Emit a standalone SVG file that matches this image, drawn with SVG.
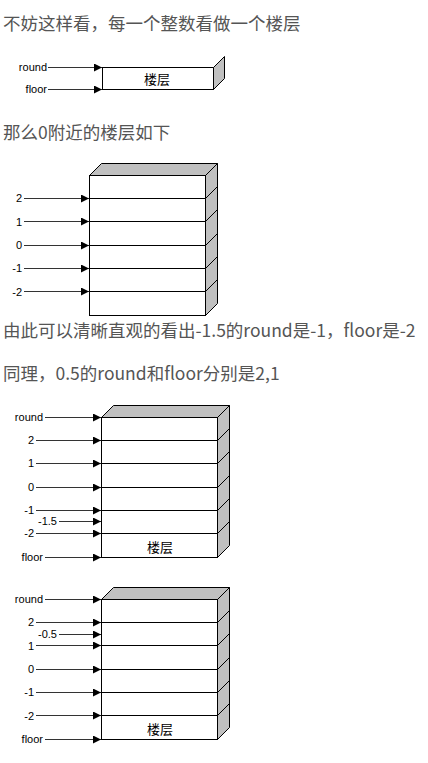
<svg xmlns="http://www.w3.org/2000/svg" width="428" height="763" viewBox="0 0 428 763">
<defs>
<marker id="ah" viewBox="0 0 8 8" refX="8" refY="4" markerWidth="8" markerHeight="8" markerUnits="userSpaceOnUse" orient="auto">
<path d="M0,0 L8,4 L0,8 z" fill="#000"/>
</marker>
<style>
.body{font-family:"Noto Sans CJK SC","Noto Sans",sans-serif;font-size:17.5px;fill:#555;}
.lbl{font-family:"Liberation Sans","DejaVu Sans","Noto Sans CJK SC",sans-serif;font-size:11px;fill:#000;text-anchor:end;dominant-baseline:central;}
.cn{font-family:"Noto Sans CJK SC",sans-serif;font-size:13px;fill:#000;text-anchor:middle;dominant-baseline:central;}
.face{fill:#fff;stroke:#000;stroke-width:1;}
.side{fill:#c0c0c0;stroke:#000;stroke-width:1;stroke-linejoin:round;}
.row{stroke:#000;stroke-width:1;fill:none;}
.conn line{stroke:#333;stroke-width:1;marker-end:url(#ah);}
</style>
</defs>
<g id="texts">
<text class="body" x="3" y="29.5">不妨这样看，每一个整数看做一个楼层</text>
<text class="body" x="3" y="138.5">那么0附近的楼层如下</text>
<text class="body" x="3" y="336.5">由此可以清晰直观的看出-1.5的round是-1，floor是-2</text>
<text class="body" x="3" y="379.5">同理，0.5的round和floor分别是2,1</text>
</g>

<!-- Diagram 1 -->
<g id="box1">
<rect class="face" x="102.5" y="67.5" width="111" height="22"/>
<path class="side" d="M213.5,67.5 L224.5,56.5 L224.5,78.5 L213.5,89.5 z"/>
<text class="cn" x="157" y="78">楼层</text>
</g>
<g id="labels1">
<text class="lbl" x="47" y="67">round</text>
<text class="lbl" x="47" y="89">floor</text>
</g>

<!-- Diagram 2 -->
<g id="box2">
<path class="side" d="M89.5,175.5 L101.5,163.5 L217.5,163.5 L205.5,175.5 z"/>
<path class="side" d="M205.5,175.5 L217.5,163.5 L217.5,303.5 L205.5,315.5 z"/>
<rect class="face" x="89.5" y="175.5" width="116" height="140"/>
<path class="row" d="M89.5,198.5 H205.5 L217.5,186.5 M89.5,221.5 H205.5 L217.5,209.5 M89.5,245.5 H205.5 L217.5,233.5 M89.5,268.5 H205.5 L217.5,256.5 M89.5,291.5 H205.5 L217.5,279.5"/>
</g>
<g id="labels2">
<text class="lbl" x="22" y="198">2</text>
<text class="lbl" x="22" y="222">1</text>
<text class="lbl" x="22" y="245">0</text>
<text class="lbl" x="22" y="268">-1</text>
<text class="lbl" x="22" y="292">-2</text>
</g>

<!-- Diagram 3 -->
<g id="box3">
<path class="side" d="M101.5,417.5 L113.5,405.5 L229.5,405.5 L217.5,417.5 z"/>
<path class="side" d="M217.5,417.5 L229.5,405.5 L229.5,545.5 L217.5,557.5 z"/>
<rect class="face" x="101.5" y="417.5" width="116" height="140"/>
<path class="row" d="M101.5,440.5 H217.5 L229.5,428.5 M101.5,463.5 H217.5 L229.5,451.5 M101.5,487.5 H217.5 L229.5,475.5 M101.5,510.5 H217.5 L229.5,498.5 M101.5,533.5 H217.5 L229.5,521.5"/>
<text class="cn" x="160" y="546">楼层</text>
</g>
<g id="labels3">
<text class="lbl" x="43" y="417">round</text>
<text class="lbl" x="34" y="440">2</text>
<text class="lbl" x="34" y="463">1</text>
<text class="lbl" x="34" y="487">0</text>
<text class="lbl" x="34" y="510">-1</text>
<text class="lbl" x="57" y="521">-1.5</text>
<text class="lbl" x="34" y="533">-2</text>
<text class="lbl" x="43" y="557">floor</text>
</g>

<!-- Diagram 4 -->
<g id="box4">
<path class="side" d="M101.5,599.5 L113.5,587.5 L229.5,587.5 L217.5,599.5 z"/>
<path class="side" d="M217.5,599.5 L229.5,587.5 L229.5,727.5 L217.5,739.5 z"/>
<rect class="face" x="101.5" y="599.5" width="116" height="140"/>
<path class="row" d="M101.5,622.5 H217.5 L229.5,610.5 M101.5,645.5 H217.5 L229.5,633.5 M101.5,669.5 H217.5 L229.5,657.5 M101.5,692.5 H217.5 L229.5,680.5 M101.5,715.5 H217.5 L229.5,703.5"/>
<text class="cn" x="160" y="728">楼层</text>
</g>
<g id="labels4">
<text class="lbl" x="43" y="599">round</text>
<text class="lbl" x="34" y="622">2</text>
<text class="lbl" x="57" y="634">-0.5</text>
<text class="lbl" x="34" y="646">1</text>
<text class="lbl" x="34" y="669">0</text>
<text class="lbl" x="34" y="692">-1</text>
<text class="lbl" x="34" y="716">-2</text>
<text class="lbl" x="43" y="739">floor</text>
</g>

<g id="connectors" class="conn">
<line x1="48" y1="67.5" x2="102" y2="67.5"/>
<line x1="48" y1="89.5" x2="102" y2="89.5"/>

<line x1="24" y1="198.5" x2="89" y2="198.5"/>
<line x1="24" y1="221.5" x2="89" y2="221.5"/>
<line x1="24" y1="245.5" x2="89" y2="245.5"/>
<line x1="24" y1="268.5" x2="89" y2="268.5"/>
<line x1="24" y1="291.5" x2="89" y2="291.5"/>

<line x1="45" y1="417.5" x2="101" y2="417.5"/>
<line x1="36" y1="440.5" x2="101" y2="440.5"/>
<line x1="36" y1="463.5" x2="101" y2="463.5"/>
<line x1="36" y1="487.5" x2="101" y2="487.5"/>
<line x1="36" y1="510.5" x2="101" y2="510.5"/>
<line x1="59" y1="521.5" x2="101" y2="521.5"/>
<line x1="36" y1="533.5" x2="101" y2="533.5"/>
<line x1="45" y1="557.5" x2="101" y2="557.5"/>

<line x1="45" y1="599.5" x2="101" y2="599.5"/>
<line x1="36" y1="622.5" x2="101" y2="622.5"/>
<line x1="59" y1="634.5" x2="101" y2="634.5"/>
<line x1="36" y1="645.5" x2="101" y2="645.5"/>
<line x1="36" y1="669.5" x2="101" y2="669.5"/>
<line x1="36" y1="692.5" x2="101" y2="692.5"/>
<line x1="36" y1="715.5" x2="101" y2="715.5"/>
<line x1="45" y1="739.5" x2="101" y2="739.5"/>
</g>
</svg>
